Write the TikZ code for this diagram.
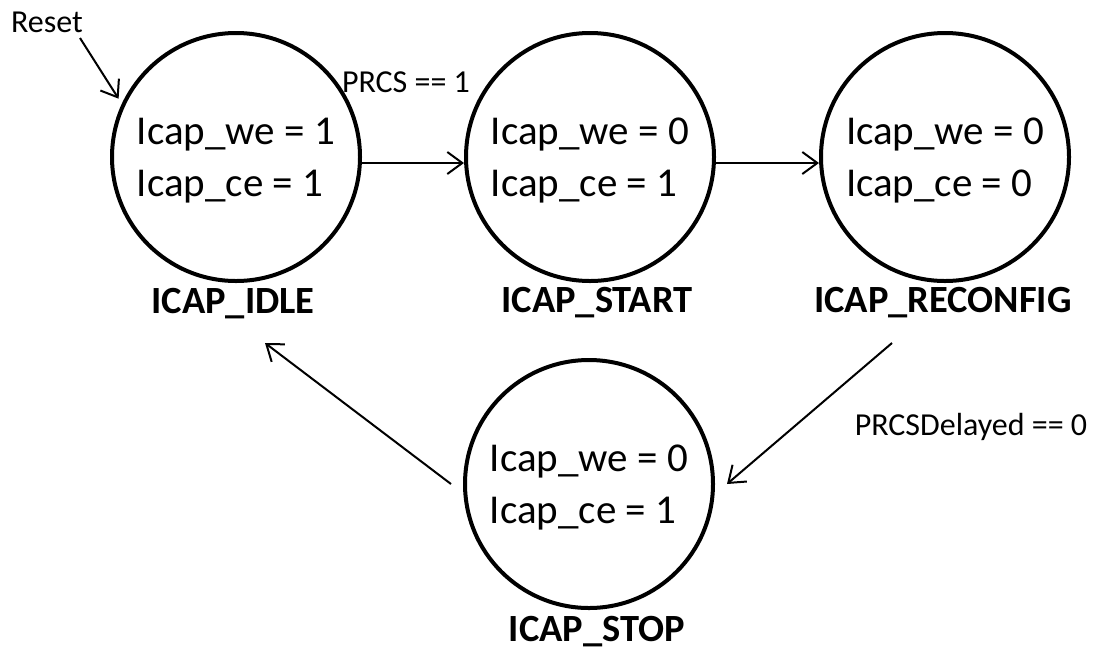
\documentclass[tikz,border=0pt]{standalone}
\usepackage{fontspec}
\setmainfont{Carlito}
\usetikzlibrary{arrows.meta}
\begin{document}
\begin{tikzpicture}[x=1pt,y=-1pt,
  state/.style={circle, draw, line width=4pt, minimum size=248pt, inner sep=0pt,
    align=left, font=\fontsize{41}{52}\selectfont, text depth=0pt},
  lbl/.style={font=\bfseries\fontsize{38.5}{42}\selectfont, anchor=base},
  small/.style={font=\fontsize{32}{36}\selectfont, anchor=base},
  arr/.style={line width=2pt, -{Straight Barb[length=15pt,width=22pt]}}]
\useasboundingbox (0,0) rectangle (1103,649);
\node[state] (idle) at (236,157) {Icap\_we = 1\\Icap\_ce = 1};
\node[state] (start) at (590,157) {Icap\_we = 0\\Icap\_ce = 1};
\node[state] (reconfig) at (945,157) {Icap\_we = 0\\Icap\_ce = 0};
\node[state] (stop) at (589,484) {Icap\_we = 0\\Icap\_ce = 1};
\node[lbl] (idlelbl) at (233,313) {ICAP\_IDLE};
\node[lbl] (startlbl) at (597,312) {ICAP\_START};
\node[lbl] (reconfiglbl) at (943,312) {ICAP\_RECONFIG};
\node[lbl] (stoplbl) at (597,641) {ICAP\_STOP};
\node[small] (reset) at (47,32) {Reset};
\node[small] (prcs) at (406,92) {PRCS == 1};
\node[small] (prcsd) at (971,435) {PRCSDelayed == 0};
\coordinate (rs) at (80,38);
\coordinate (si) at (265,343);
\coordinate (rc) at (892,343);
\draw[arr, shorten >=6pt] (rs) -- (idle.155);
\draw[arr] ([yshift=-6pt]idle.east) -- ([yshift=-6pt]start.west);
\draw[arr] ([yshift=-6pt]start.east) -- ([yshift=-6pt]reconfig.west);
\draw[arr] (rc) -- ([xshift=12pt]stop.east);
\draw[arr] ([xshift=-12pt]stop.west) -- (si);
\end{tikzpicture}
\end{document}
